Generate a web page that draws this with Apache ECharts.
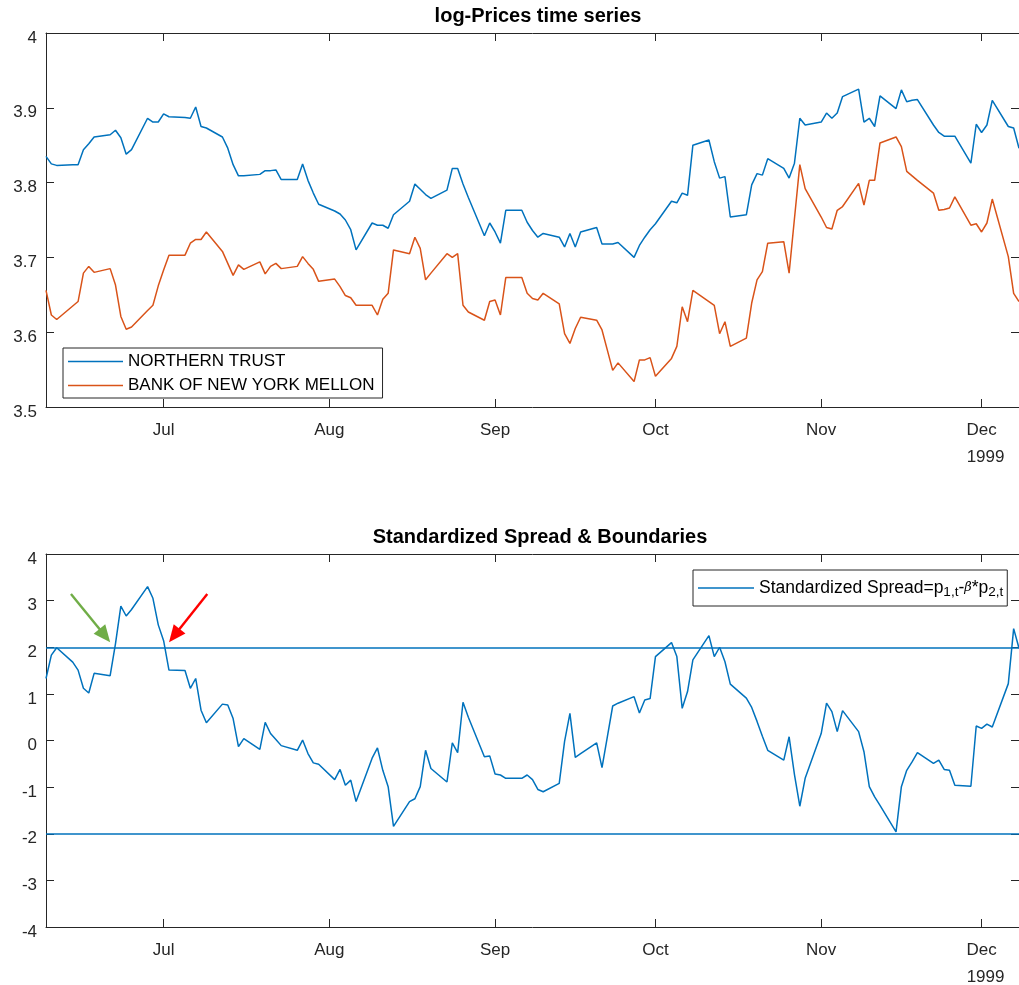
<!DOCTYPE html>
<html>
<head>
<meta charset="utf-8">
<script src="https://cdn.jsdelivr.net/npm/echarts@6/dist/echarts.min.js"></script>
<style>
  html, body { margin: 0; padding: 0; background: #fff; }
  #main { width: 1019px; height: 985px; }
</style>
</head>
<body>
<div id="main"></div>
<script>
// trading days (holidays carried with previous value, as in the plot)
var dates = [
  '1999-06-09','1999-06-10','1999-06-11','1999-06-14','1999-06-15','1999-06-16','1999-06-17','1999-06-18',
  '1999-06-21','1999-06-22','1999-06-23','1999-06-24','1999-06-25','1999-06-28','1999-06-29','1999-06-30',
  '1999-07-01','1999-07-02','1999-07-05','1999-07-06','1999-07-07','1999-07-08','1999-07-09','1999-07-12',
  '1999-07-13','1999-07-14','1999-07-15','1999-07-16','1999-07-19','1999-07-20','1999-07-21','1999-07-22',
  '1999-07-23','1999-07-26','1999-07-27','1999-07-28','1999-07-29','1999-07-30',
  '1999-08-02','1999-08-03','1999-08-04','1999-08-05','1999-08-06','1999-08-09','1999-08-10','1999-08-11',
  '1999-08-12','1999-08-13','1999-08-16','1999-08-17','1999-08-18','1999-08-19','1999-08-20','1999-08-23',
  '1999-08-24','1999-08-25','1999-08-26','1999-08-27','1999-08-30','1999-08-31',
  '1999-09-01','1999-09-02','1999-09-03','1999-09-06','1999-09-07','1999-09-08','1999-09-09','1999-09-10',
  '1999-09-13','1999-09-14','1999-09-15','1999-09-16','1999-09-17','1999-09-20','1999-09-21','1999-09-22',
  '1999-09-23','1999-09-24','1999-09-27','1999-09-28','1999-09-29','1999-09-30',
  '1999-10-01','1999-10-04','1999-10-05','1999-10-06','1999-10-07','1999-10-08','1999-10-11','1999-10-12',
  '1999-10-13','1999-10-14','1999-10-15','1999-10-18','1999-10-19','1999-10-20','1999-10-21','1999-10-22',
  '1999-10-25','1999-10-26','1999-10-27','1999-10-28','1999-10-29',
  '1999-11-01','1999-11-02','1999-11-03','1999-11-04','1999-11-05','1999-11-08','1999-11-09','1999-11-10',
  '1999-11-11','1999-11-12','1999-11-15','1999-11-16','1999-11-17','1999-11-18','1999-11-19','1999-11-22',
  '1999-11-23','1999-11-24','1999-11-25','1999-11-26','1999-11-29','1999-11-30',
  '1999-12-01','1999-12-02','1999-12-03','1999-12-06','1999-12-07','1999-12-08'
];

var northernTrust = [
  3.835, 3.825, 3.823, 3.824, 3.824, 3.844, 3.852, 3.861, 3.864, 3.870, 3.860, 3.838, 3.844, 3.886, 3.881, 3.881,
  3.892, 3.888, 3.887, 3.886, 3.901, 3.875, 3.873, 3.861, 3.846, 3.824, 3.809, 3.809, 3.811, 3.816, 3.816, 3.817,
  3.804, 3.804, 3.825, 3.803, 3.786, 3.771,
  3.762, 3.758, 3.750, 3.737, 3.710, 3.746, 3.743, 3.743, 3.739, 3.757, 3.775, 3.798, 3.791, 3.784, 3.779, 3.790,
  3.819, 3.819, 3.798, 3.780, 3.729, 3.746,
  3.734, 3.719, 3.763, 3.763, 3.747, 3.736, 3.727, 3.732, 3.727, 3.714, 3.732, 3.714, 3.734, 3.740, 3.718, 3.718,
  3.718, 3.720, 3.700, 3.716, 3.727, 3.737,
  3.745, 3.775, 3.773, 3.786, 3.783, 3.850, 3.857, 3.828, 3.806, 3.808, 3.754, 3.757, 3.797, 3.812, 3.810, 3.832,
  3.819, 3.806, 3.826, 3.886, 3.877,
  3.881, 3.893, 3.886, 3.893, 3.915, 3.925, 3.881, 3.886, 3.875, 3.916, 3.899, 3.924, 3.908, 3.910, 3.911, 3.877,
  3.867, 3.862, 3.862, 3.862, 3.826, 3.878,
  3.867, 3.877, 3.910, 3.875, 3.873, 3.846
];

var bnyMellon = [
  3.656, 3.623, 3.617, 3.635, 3.641, 3.679, 3.688, 3.680, 3.685, 3.663, 3.621, 3.604, 3.607, 3.629, 3.636, 3.662,
  3.683, 3.703, 3.703, 3.719, 3.724, 3.724, 3.734, 3.708, 3.692, 3.676, 3.690, 3.684, 3.694, 3.678, 3.688, 3.692,
  3.685, 3.688, 3.701, 3.692, 3.684, 3.668,
  3.671, 3.661, 3.649, 3.646, 3.636, 3.636, 3.623, 3.644, 3.652, 3.710, 3.705, 3.727, 3.712, 3.670, 3.679, 3.705,
  3.700, 3.705, 3.636, 3.627, 3.616, 3.641,
  3.643, 3.623, 3.673, 3.673, 3.652, 3.645, 3.643, 3.652, 3.638, 3.598, 3.585, 3.605, 3.620, 3.616, 3.603, 3.576,
  3.549, 3.559, 3.534, 3.563, 3.563, 3.566,
  3.541, 3.565, 3.581, 3.634, 3.614, 3.656, 3.641, 3.636, 3.598, 3.614, 3.581, 3.592, 3.639, 3.670, 3.681, 3.719,
  3.721, 3.679, 3.752, 3.824, 3.792,
  3.754, 3.740, 3.738, 3.763, 3.768, 3.799, 3.770, 3.803, 3.803, 3.853, 3.861, 3.848, 3.815, 3.809, 3.803, 3.786,
  3.763, 3.764, 3.766, 3.781, 3.743, 3.745,
  3.734, 3.746, 3.778, 3.701, 3.652, 3.641
];

var spread = [
  1.33, 1.83, 1.99, 1.68, 1.51, 1.12, 1.02, 1.44, 1.39, 2.08, 2.88, 2.67, 2.81, 3.30, 3.05, 2.48,
  2.14, 1.51, 1.50, 1.12, 1.33, 0.65, 0.38, 0.78, 0.76, 0.47, -0.13, 0.04, -0.19, 0.39, 0.15, 0.02,
  -0.11, -0.21, 0.01, -0.28, -0.48, -0.51,
  -0.84, -0.62, -0.96, -0.85, -1.31, -0.38, -0.16, -0.64, -0.99, -1.84, -1.31, -1.25, -0.99, -0.21, -0.60, -0.89,
  -0.05, -0.26, 0.82, 0.50, -0.35, -0.33,
  -0.72, -0.74, -0.81, -0.81, -0.74, -0.84, -1.05, -1.10, -0.92, -0.02, 0.58, -0.36, -0.28, -0.05, -0.58, 0.08,
  0.74, 0.80, 0.94, 0.59, 0.87, 0.90,
  1.80, 2.10, 1.80, 0.69, 1.05, 1.73, 2.25, 1.80, 2.00, 1.69, 1.21, 0.91, 0.71, 0.41, 0.09, -0.21,
  -0.42, 0.08, -0.73, -1.41, -0.81,
  0.15, 0.80, 0.62, 0.19, 0.64, 0.19, -0.24, -0.99, -1.21, -1.39, -1.96, -0.99, -0.64, -0.46, -0.26, -0.49,
  -0.42, -0.62, -0.64, -0.96, -0.98, 0.31,
  0.26, 0.35, 0.29, 1.22, 2.40, 1.98
];

var bounds = [2, -2];
var monthTicks = ['1999-07-01', '1999-08-01', '1999-09-01', '1999-10-01', '1999-11-01', '1999-12-01'];
var monthNames = ['Jan','Feb','Mar','Apr','May','Jun','Jul','Aug','Sep','Oct','Nov','Dec'];
var arrowGreen = [['1999-06-13 16:00', 3.14], ['1999-06-20 00:00', 2.25]];
var arrowRed = [['1999-07-09 04:00', 3.14], ['1999-07-03 00:00', 2.25]];

var FONT = '"Liberation Sans", Arial, sans-serif';
var AX = '#262626';
var BLUE = '#0072BD';
var ORANGE = '#D95319';

function toTime(s) {
  var p = s.split(/[- :]/).map(Number);
  return new Date(p[0], p[1] - 1, p[2], p[3] || 0, p[4] || 0).getTime();
}
function pairs(vals) {
  return dates.map(function (d, i) { return [toTime(d), vals[i]]; });
}
var xMin = toTime(dates[0]);
var xMax = toTime(dates[dates.length - 1]);
var tickTimes = monthTicks.map(toTime);

function monthLabel(v) {
  var d = new Date(v);
  var s = '{m|' + monthNames[d.getMonth()] + '}';
  if (d.getMonth() === 11) s += '\n{y|' + d.getFullYear() + '}';
  return s;
}

// x axes are plain value axes holding timestamps, ticks on month starts
function xAxes(gi) {
  return [{
    type: 'value', gridIndex: gi, min: xMin, max: xMax, position: 'bottom',
    axisLine: { show: true, onZero: false, lineStyle: { color: AX, width: 1 } },
    axisTick: { show: true, inside: true, length: 8, customValues: tickTimes, lineStyle: { color: AX } },
    axisLabel: {
      show: true, customValues: tickTimes, formatter: monthLabel, color: AX,
      fontFamily: FONT, fontSize: 17, lineHeight: 27, margin: 10,
      rich: {
        m: { fontFamily: FONT, fontSize: 17, color: AX, lineHeight: 27 },
        y: { fontFamily: FONT, fontSize: 17, color: AX, lineHeight: 27, padding: [0, 0, 0, 8] }
      }
    },
    splitLine: { show: false }
  }, {
    type: 'value', gridIndex: gi, min: xMin, max: xMax, position: 'top',
    axisLine: { show: true, onZero: false, lineStyle: { color: AX, width: 1 } },
    axisTick: { show: true, inside: true, length: 8, customValues: tickTimes, lineStyle: { color: AX } },
    axisLabel: { show: false },
    splitLine: { show: false }
  }];
}

function yAxes(gi, min, max, interval, fmt) {
  return [{
    type: 'value', gridIndex: gi, min: min, max: max, interval: interval, position: 'left',
    axisLine: { show: true, onZero: false, lineStyle: { color: AX, width: 1 } },
    axisTick: { show: true, inside: true, length: 8, lineStyle: { color: AX } },
    axisLabel: {
      color: AX, fontFamily: FONT, fontSize: 17, margin: 9, formatter: fmt,
      verticalAlign: 'top', lineHeight: 10
    },
    splitLine: { show: false }
  }, {
    type: 'value', gridIndex: gi, min: min, max: max, interval: interval, position: 'right',
    axisLine: { show: false },
    axisTick: { show: true, inside: true, length: 8, lineStyle: { color: AX } },
    axisLabel: { show: false },
    splitLine: { show: false }
  }];
}

function arrowLine(pts, color) {
  return [
    { coord: [toTime(pts[0][0]), pts[0][1]], symbol: 'none', lineStyle: { color: color, width: 2.4, type: 'solid' } },
    { coord: [toTime(pts[1][0]), pts[1][1]], symbol: 'triangle', symbolSize: [15, 17] }
  ];
}

var spreadName = 'Standardized Spread=p1,t-β*p2,t';

var myChart = echarts.init(document.getElementById('main'), null, { renderer: 'canvas' });

var option = {
  animation: false,
  backgroundColor: '#fff',
  title: [{
    text: 'log-Prices time series', left: 533, top: 1, textAlign: 'center',
    textStyle: { fontFamily: FONT, fontSize: 20, fontWeight: 'bold', color: '#000' }
  }, {
    text: 'Standardized Spread & Boundaries', left: 535, top: 522, textAlign: 'center',
    textStyle: { fontFamily: FONT, fontSize: 20, fontWeight: 'bold', color: '#000' }
  }],
  grid: [
    { left: 46, right: 0, top: 33, height: 374, containLabel: false, outerBoundsMode: 'none' },
    { left: 46, right: 0, top: 554, height: 373, containLabel: false, outerBoundsMode: 'none' }
  ],
  xAxis: xAxes(0).concat(xAxes(1)),
  yAxis: yAxes(0, 3.5, 4, 0.1, function (v) { return String(+v.toFixed(1)); })
    .concat(yAxes(1, -4, 4, 1, function (v) { return String(Math.round(v)); })),
  legend: [{
    data: ['NORTHERN TRUST', 'BANK OF NEW YORK MELLON'],
    left: 63, top: 348, orient: 'vertical', icon: 'rect',
    itemWidth: 55, itemHeight: 1.5, itemGap: 7,
    padding: [5, 8, 4, 5],
    borderColor: AX, borderWidth: 1, backgroundColor: '#fff',
    selectedMode: false,
    textStyle: { fontFamily: FONT, fontSize: 17, color: '#000', lineHeight: 17 }
  }, {
    data: [spreadName],
    left: 693, top: 570, orient: 'vertical', icon: 'rect',
    itemWidth: 56, itemHeight: 1.5,
    padding: [9, 4, 7, 5],
    borderColor: AX, borderWidth: 1, backgroundColor: '#fff',
    selectedMode: false,
    formatter: function () {
      return '{n|Standardized Spread=p}{s|1,t}{n|-}{b|β}{n|*p}{s|2,t}';
    },
    textStyle: {
      fontFamily: FONT, fontSize: 17.5, color: '#000',
      rich: {
        n: { fontFamily: FONT, fontSize: 17.5, color: '#000', lineHeight: 22, verticalAlign: 'middle' },
        s: { fontFamily: FONT, fontSize: 13.5, color: '#000', lineHeight: 13, verticalAlign: 'bottom' },
        b: { fontFamily: 'DejaVu Serif', fontSize: 13, fontStyle: 'italic', color: '#000', lineHeight: 22 }
      }
    }
  }],
  series: [{
    name: 'NORTHERN TRUST', type: 'line', xAxisIndex: 0, yAxisIndex: 0,
    data: pairs(northernTrust), showSymbol: false, symbol: 'none',
    color: BLUE, lineStyle: { color: BLUE, width: 1.5 }
  }, {
    name: 'BANK OF NEW YORK MELLON', type: 'line', xAxisIndex: 0, yAxisIndex: 0,
    data: pairs(bnyMellon), showSymbol: false, symbol: 'none',
    color: ORANGE, lineStyle: { color: ORANGE, width: 1.5 }
  }, {
    name: spreadName, type: 'line', xAxisIndex: 2, yAxisIndex: 2,
    data: pairs(spread), showSymbol: false, symbol: 'none',
    color: BLUE, lineStyle: { color: BLUE, width: 1.5 },
    markLine: {
      silent: true, animation: false,
      symbol: ['none', 'none'],
      label: { show: false },
      emphasis: { disabled: true },
      lineStyle: { color: BLUE, width: 1.5, type: 'solid' },
      data: bounds.map(function (b) { return { yAxis: b }; }).concat([
        arrowLine(arrowGreen, '#70AD47'),
        arrowLine(arrowRed, '#FF0000')
      ])
    }
  }]
};

option && myChart.setOption(option);
</script>
</body>
</html>
